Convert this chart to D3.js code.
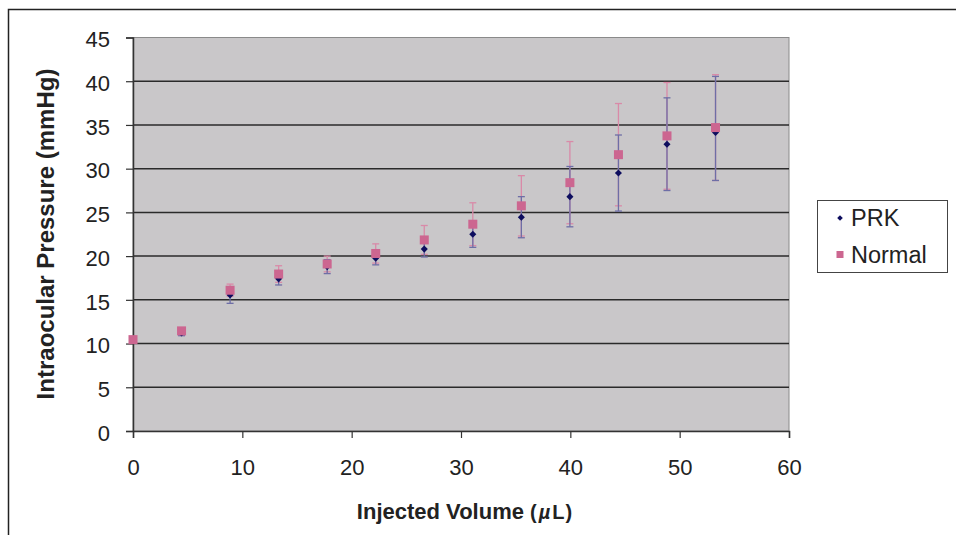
<!DOCTYPE html>
<html>
<head>
<meta charset="utf-8">
<script src="https://cdn.jsdelivr.net/npm/d3@7"></script>
<style>
  body { margin: 0; background: #fff; }
  svg { font-family: "Liberation Sans", Arial, sans-serif; }
</style>
</head>
<body>
<div id="root"></div>
<script>
// injected volume (uL)
const volume = [0, 4.44, 8.88, 13.32, 17.76, 22.2, 26.64, 31.08, 35.52, 39.96, 44.4, 48.84, 53.28];

// PRK eyes: mean IOP and error bar (up / down)
const prk = [10.4, 11.2, 15.55, 17.4, 18.8, 19.75, 20.8, 22.5, 24.45, 26.8, 29.5, 32.8, 34.15];
const prkErrUp = [0.2, 0.3, 0.95, 0.7, 0.8, 0.75, 0.9, 1.5, 2.35, 3.45, 4.35, 5.3, 6.4];
const prkErrDown = [0.2, 0.3, 0.95, 0.7, 0.8, 0.75, 0.9, 1.5, 2.35, 3.45, 4.35, 5.3, 5.5];

// normal eyes
const normal = [10.45, 11.45, 16.1, 17.95, 19.1, 20.3, 21.85, 23.65, 25.75, 28.4, 31.6, 33.75, 34.7];
const normalErr = [0.2, 0.3, 0.7, 0.95, 0.9, 1.1, 1.65, 2.45, 3.45, 4.7, 5.85, 6.1, 6.05];

const xTicks = [0, 10, 20, 30, 40, 50, 60];
const yTicks = [0, 5, 10, 15, 20, 25, 30, 35, 40, 45];

const seriesNames = ["PRK", "Normal"];

const W = 956, H = 535;
const plot = {left: 133, right: 789, top: 37.5, bottom: 431};

const svg = d3.select("#root")
  .append("svg")
  .attr("width", W)
  .attr("height", H);

// outer frame (only top/left edges show in the crop)
svg.append("rect")
  .attr("x", 8.5).attr("y", 9.5)
  .attr("width", W + 20).attr("height", H + 20)
  .attr("fill", "#fff")
  .attr("stroke", "#222")
  .attr("stroke-width", 1.5);

const x = d3.scaleLinear().domain([0, 60]).range([plot.left, plot.right]);
const y = d3.scaleLinear().domain([0, 45]).range([plot.bottom, plot.top]);

// plot area
svg.append("rect")
  .attr("x", plot.left).attr("y", plot.top)
  .attr("width", plot.right - plot.left).attr("height", plot.bottom - plot.top)
  .attr("fill", "#c9c7c9")
  .attr("stroke", "#8a8a8a")
  .attr("stroke-width", 1);

// gridlines
svg.append("g")
  .selectAll("line")
  .data(yTicks.filter(d => d > 0 && d < 45))
  .enter().append("line")
    .attr("x1", plot.left).attr("x2", plot.right)
    .attr("y1", d => y(d)).attr("y2", d => y(d))
    .attr("stroke", "#2a2a2a")
    .attr("stroke-width", 1.5);

// axes
const yAxis = svg.append("g")
  .attr("transform", "translate(" + plot.left + ",0)")
  .call(d3.axisLeft(y).tickValues(yTicks).tickSize(7).tickPadding(16));

const xAxis = svg.append("g")
  .attr("transform", "translate(0," + plot.bottom + ")")
  .call(d3.axisBottom(x).tickValues(xTicks).tickSize(7).tickPadding(21));

[xAxis, yAxis].forEach(function(a) {
  a.select(".domain").attr("stroke", "#333").attr("stroke-width", 1.5);
  a.selectAll(".tick line").attr("stroke", "#333").attr("stroke-width", 1.2);
  a.selectAll(".tick text")
    .attr("fill", "#222")
    .style("font-size", "22px")
    .style("font-family", "'Liberation Sans', Arial, sans-serif");
});
yAxis.selectAll(".tick text").attr("dy", "0.42em");

// axis titles
svg.append("text")
  .attr("transform", "translate(54,234) rotate(-90)")
  .attr("text-anchor", "middle")
  .attr("fill", "#222")
  .style("font-size", "24px")
  .style("font-weight", "bold")
  .text("Intraocular Pressure (mmHg)");

const xt = svg.append("text")
  .attr("x", 465).attr("y", 519)
  .attr("text-anchor", "middle")
  .attr("fill", "#222")
  .style("font-weight", "bold");
xt.append("tspan").style("font-size", "22px").text("Injected Volume ");
xt.append("tspan").style("font-size", "20px").style("letter-spacing", "2px").text("(");
xt.append("tspan").style("font-size", "20px").style("letter-spacing", "2px").style("font-style", "italic").text("\u00b5");
xt.append("tspan").style("font-size", "20px").style("letter-spacing", "1px").text("L)");

// error bars
const capW = 3.5;
function errorBars(cls, mean, up, down, color) {
  const g = svg.append("g").attr("class", cls);
  const rows = volume.map(function(v, i) {
    return {v: v, hi: mean[i] + up[i], lo: mean[i] - down[i]};
  });
  g.selectAll(".stem").data(rows).enter().append("line")
    .attr("x1", d => x(d.v)).attr("x2", d => x(d.v))
    .attr("y1", d => y(d.hi)).attr("y2", d => y(d.lo))
    .attr("stroke", color).attr("stroke-width", 1.3);
  g.selectAll(".capHi").data(rows).enter().append("line")
    .attr("x1", d => x(d.v) - capW).attr("x2", d => x(d.v) + capW)
    .attr("y1", d => y(d.hi)).attr("y2", d => y(d.hi))
    .attr("stroke", color).attr("stroke-width", 1.3);
  g.selectAll(".capLo").data(rows).enter().append("line")
    .attr("x1", d => x(d.v) - capW).attr("x2", d => x(d.v) + capW)
    .attr("y1", d => y(d.lo)).attr("y2", d => y(d.lo))
    .attr("stroke", color).attr("stroke-width", 1.3);
}

const prkColor = "#0d0d5e";
const prkBar = "#6e6ea6";
const normColor = "#cc6690";
const normBar = "#d98aa8";

errorBars("normal-err", normal, normalErr, normalErr, normBar);
errorBars("prk-err", prk, prkErrUp, prkErrDown, prkBar);

// markers
const diamond = d3.symbol().type(d3.symbolDiamond2).size(32);
svg.append("g").selectAll("path")
  .data(volume.map((v, i) => ({v: v, p: prk[i]})))
  .enter().append("path")
    .attr("d", diamond)
    .attr("transform", d => "translate(" + x(d.v) + "," + y(d.p) + ")")
    .attr("fill", prkColor);

svg.append("g").selectAll("rect")
  .data(volume.map((v, i) => ({v: v, n: normal[i]})))
  .enter().append("rect")
    .attr("x", d => x(d.v) - 4.5)
    .attr("y", d => y(d.n) - 4.5)
    .attr("width", 9).attr("height", 9)
    .attr("fill", normColor);

// legend
const lg = svg.append("g").attr("transform", "translate(817,200)");
lg.append("rect")
  .attr("x", 0.5).attr("y", 0.5)
  .attr("width", 130).attr("height", 72)
  .attr("fill", "#fff")
  .attr("stroke", "#444")
  .attr("stroke-width", 1);

lg.selectAll("text")
  .data(seriesNames)
  .enter().append("text")
    .attr("x", 34)
    .attr("y", (d, i) => 18 + i * 36.5)
    .attr("dy", "0.36em")
    .attr("fill", "#222")
    .style("font-size", "23.5px")
    .text(d => d);

lg.append("path")
  .attr("d", d3.symbol().type(d3.symbolDiamond2).size(20))
  .attr("transform", "translate(23,18)")
  .attr("fill", prkColor);
lg.append("rect")
  .attr("x", 19.5).attr("y", 51)
  .attr("width", 7).attr("height", 7)
  .attr("fill", normColor);
</script>
</body>
</html>
